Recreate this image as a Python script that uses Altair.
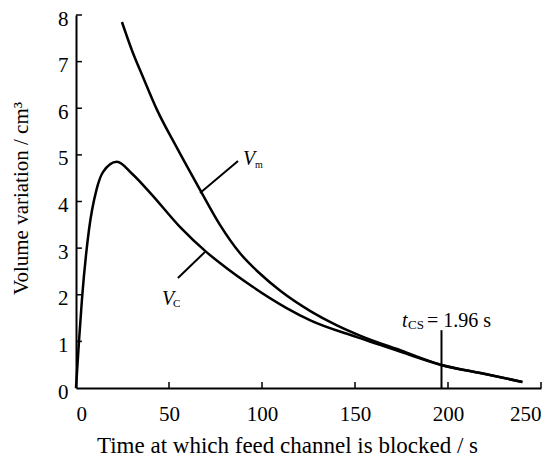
import altair as alt
import pandas as pd

# Vm curve (time s, volume cm^3)
vm_t = [24.7, 30, 36, 43.5, 54, 66.7, 77.4, 88, 99, 110, 126, 140, 153, 175, 196, 220, 240]
vm_v = [7.85, 7.25, 6.67, 5.97, 5.17, 4.25, 3.5, 2.9, 2.45, 2.08, 1.65, 1.35, 1.12, 0.8, 0.5, 0.3, 0.13]

# Vc curve
vc_t = [0, 1.6, 3.2, 7, 11, 14.5, 22, 30, 40, 56, 70, 77.4, 95, 113, 126, 151, 175, 196, 220, 240]
vc_v = [0, 1.0, 1.9, 3.4, 4.25, 4.63, 4.85, 4.6, 4.18, 3.45, 2.92, 2.68, 2.17, 1.72, 1.45, 1.09, 0.77, 0.5, 0.3, 0.13]

x_ticks = [0, 50, 100, 150, 200, 250]
y_ticks = [0, 1, 2, 3, 4, 5, 6, 7, 8]

# annotations
lead_x = [66.7, 69.4, 196.5]
lead_y = [4.18, 2.92, 0.0]
lead_x2 = [87.1, 54.8, 196.5]
lead_y2 = [4.87, 2.36, 1.24]

ital_text = ["V", "V", "t"]
ital_x = [89.8, 46.2, 175.3]
ital_y = [4.78, 1.78, 1.31]

sub_text = ["m", "C", "CS"]
sub_x = [96.2, 52.2, 178.5]
sub_y = [4.72, 1.74, 1.27]
sub_size = [10, 11, 13]

eq_text = ["= 1.96 s"]
eq_x = [188.7]
eq_y = [1.31]

FONT = "Liberation Serif"

curves = pd.DataFrame(
    {"t": vm_t + vc_t, "v": vm_v + vc_v, "s": ["Vm"] * len(vm_t) + ["Vc"] * len(vc_t)}
)

xs = alt.Scale(domain=[0, 250], nice=False, zero=False)
ys = alt.Scale(domain=[0, 8], nice=False, zero=False)

base_x_axis = alt.Axis(
    values=x_ticks, ticks=False, labelPadding=15, labelFontSize=21, labelFont=FONT,
    labelColor="black", domainColor="black", domainWidth=2, grid=False,
    title="Time at which feed channel is blocked / s", titleFont=FONT, titleFontSize=23,
    titleFontWeight="normal", titleColor="black", titleX=211, titleY=64,
    titleBaseline="alphabetic", titleAnchor="middle", titleAlign="center",
)
base_y_axis = alt.Axis(
    values=y_ticks, ticks=False, labelPadding=8, labelFontSize=21, labelFont=FONT,
    labelColor="black", domainColor="black", domainWidth=2, grid=False, labelOffset=4,
    title="Volume variation / cm³", titleFont=FONT, titleFontSize=21,
    titleFontWeight="normal", titleColor="black", titleX=-49, titleY=183,
    titleAngle=270, titleBaseline="alphabetic", titleAlign="center",
)

lines = alt.Chart(curves).mark_line(color="black", strokeWidth=2.5, interpolate="monotone").encode(
    x=alt.X("t:Q", scale=xs, axis=base_x_axis),
    y=alt.Y("v:Q", scale=ys, axis=base_y_axis),
    detail="s:N",
)

xt = pd.DataFrame({"x": x_ticks[1:], "y": [0] * 5, "y2": [0.13] * 5})
xtick = alt.Chart(xt).mark_rule(color="black", strokeWidth=1.5).encode(
    x=alt.X("x:Q", scale=xs), y=alt.Y("y:Q", scale=ys), y2="y2:Q"
)
yt = pd.DataFrame({"y": y_ticks[1:], "x": [0] * 8, "x2": [3.2] * 8})
ytick = alt.Chart(yt).mark_rule(color="black", strokeWidth=1.5).encode(
    y=alt.Y("y:Q", scale=ys), x=alt.X("x:Q", scale=xs), x2="x2:Q"
)

leads = pd.DataFrame({"x": lead_x, "y": lead_y, "x2": lead_x2, "y2": lead_y2})
leader = alt.Chart(leads).mark_rule(color="black", strokeWidth=2).encode(
    x=alt.X("x:Q", scale=xs), y=alt.Y("y:Q", scale=ys), x2="x2:Q", y2="y2:Q"
)

ital = alt.Chart(pd.DataFrame({"x": ital_x, "y": ital_y, "text": ital_text})).mark_text(
    font=FONT, fontSize=20, fontStyle="italic", align="left", baseline="alphabetic", color="black"
).encode(x=alt.X("x:Q", scale=xs), y=alt.Y("y:Q", scale=ys), text="text:N")

subs = alt.Chart(pd.DataFrame({"x": sub_x, "y": sub_y, "text": sub_text, "size": sub_size})).mark_text(
    font=FONT, align="left", baseline="alphabetic", color="black"
).encode(
    x=alt.X("x:Q", scale=xs), y=alt.Y("y:Q", scale=ys), text="text:N",
    size=alt.Size("size:Q", scale=None, legend=None),
)

eq = alt.Chart(pd.DataFrame({"x": eq_x, "y": eq_y, "text": eq_text})).mark_text(
    font=FONT, fontSize=20, align="left", baseline="alphabetic", color="black"
).encode(x=alt.X("x:Q", scale=xs), y=alt.Y("y:Q", scale=ys), text="text:N")

chart = alt.layer(lines, xtick, ytick, leader, ital, subs, eq).properties(
    width=465, height=373,
    autosize=alt.AutoSizeParams(type="none"),
    padding={"left": 68, "top": 7, "right": 8, "bottom": 70},
    background="white",
).configure_view(stroke=None).configure_axis(labelFont=FONT, titleFont=FONT)

chart.save("out.html", embed_options={"renderer": "svg", "actions": False})
